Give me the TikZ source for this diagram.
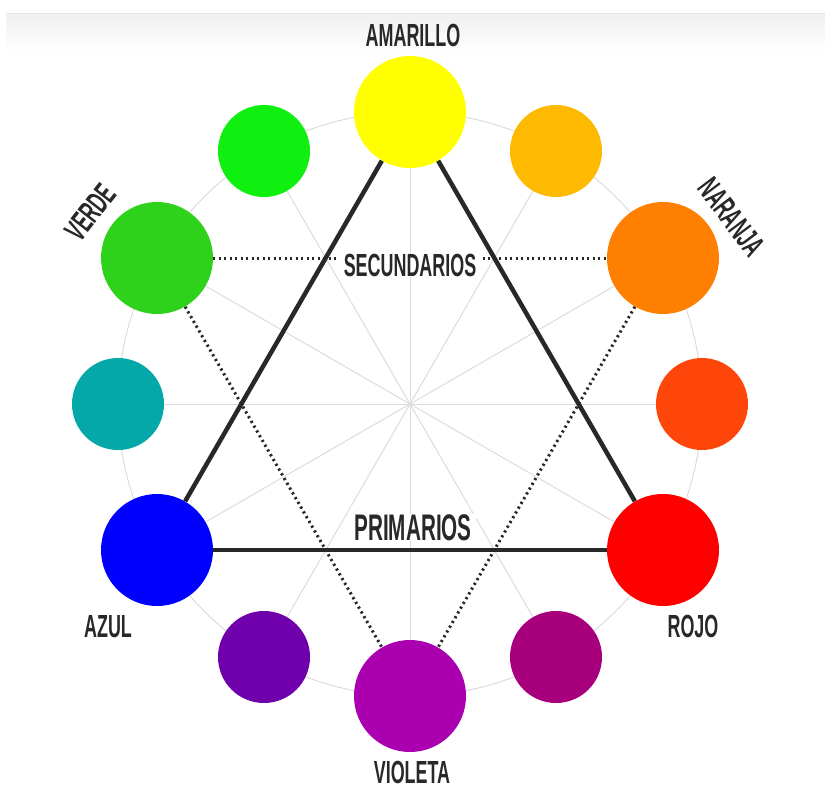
\documentclass[tikz,border=0pt]{standalone}
\usepackage{fontspec}
\setmainfont[FakeStretch=0.56]{Liberation Sans}
\usetikzlibrary{backgrounds}
\definecolor{cYel}{RGB}{255,255,0}
\definecolor{cYelOr}{RGB}{253,186,0}
\definecolor{cOra}{RGB}{255,128,0}
\definecolor{cRedOr}{RGB}{255,70,10}
\definecolor{cRed}{RGB}{255,0,0}
\definecolor{cRedVi}{RGB}{168,0,125}
\definecolor{cVio}{RGB}{170,0,175}
\definecolor{cBluVi}{RGB}{112,0,171}
\definecolor{cBlu}{RGB}{0,0,255}
\definecolor{cBluGr}{RGB}{5,168,168}
\definecolor{cGre}{RGB}{47,210,27}
\definecolor{cYelGr}{RGB}{16,240,16}
\definecolor{ink}{RGB}{40,40,40}
\definecolor{spokegray}{RGB}{220,220,220}
\begin{document}
\begin{tikzpicture}[x=1pt,y=-1pt,
  big/.style={circle, minimum size=112pt, inner sep=0pt, fill=#1},
  small/.style={circle, minimum size=92pt, inner sep=0pt, fill=#1},
  lbl/.style={font=\bfseries\fontsize{32}{32}\selectfont, text=ink, inner sep=0pt, text height=23pt, text depth=0pt},
  spoke/.style={draw=spokegray, line width=1pt},
  prim/.style={draw=ink, line width=4.5pt},
  seco/.style={draw=ink, line width=3pt, dash pattern=on 2.2pt off 3.3pt}
]
\useasboundingbox (0,0) rectangle (825,785);
\coordinate (c) at (410,404);
% circles
\node[big=cYel]     (yel)  at (410,112) {};
\node[small=cYelOr] (yo)   at (556,151) {};
\node[big=cOra]     (ora)  at (663,258) {};
\node[small=cRedOr] (ro)   at (702,404) {};
\node[big=cRed]     (red)  at (663,550) {};
\node[small=cRedVi] (rv)   at (556,657) {};
\node[big=cVio]     (vio)  at (410,696) {};
\node[small=cBluVi] (bv)   at (264,657) {};
\node[big=cBlu]     (blu)  at (157,550) {};
\node[small=cBluGr] (bg)   at (118,404) {};
\node[big=cGre]     (gre)  at (157,258) {};
\node[small=cYelGr] (yg)   at (264,151) {};
\begin{scope}[on background layer]
  \shade[top color=black!6, bottom color=white] (6,13) rectangle (825,52);
  \draw[black!10, line width=0.8pt] (6,13) -- (825,13);
  \draw[spoke] (c) circle[radius=292pt];
  \foreach \n in {yel,yo,ora,ro,red,rv,vio,bv,blu,bg,gre,yg}
    \draw[spoke] (c) -- (\n.center);
  \draw[prim] (yel) -- (red);
  \draw[prim] (red) -- (blu);
  \draw[prim] (blu) -- (yel);
  \draw[seco] (gre) -- (ora);
  \draw[seco] (gre) -- (vio);
  \draw[seco] (ora) -- (vio);
\end{scope}
% labels
\node[lbl] (tAma) at (413,35) {AMARILLO};
\node[lbl, fill=white, inner xsep=6pt] (tSec) at (410,265) {SECUNDARIOS};
\node[lbl, font=\bfseries\fontsize{37}{37}\selectfont, text height=27pt, fill=white, inner xsep=4pt] (tPri) at (413,527) {PRIMARIOS};
\node[lbl, rotate=52] (tVer) at (90,212) {VERDE};
\node[lbl, rotate=-53] (tNar) at (732,217) {NARANJA};
\node[lbl] (tAzu) at (108,626) {AZUL};
\node[lbl] (tRoj) at (693,626) {ROJO};
\node[lbl] (tVio) at (412,772) {VIOLETA};
\end{tikzpicture}
\end{document}
